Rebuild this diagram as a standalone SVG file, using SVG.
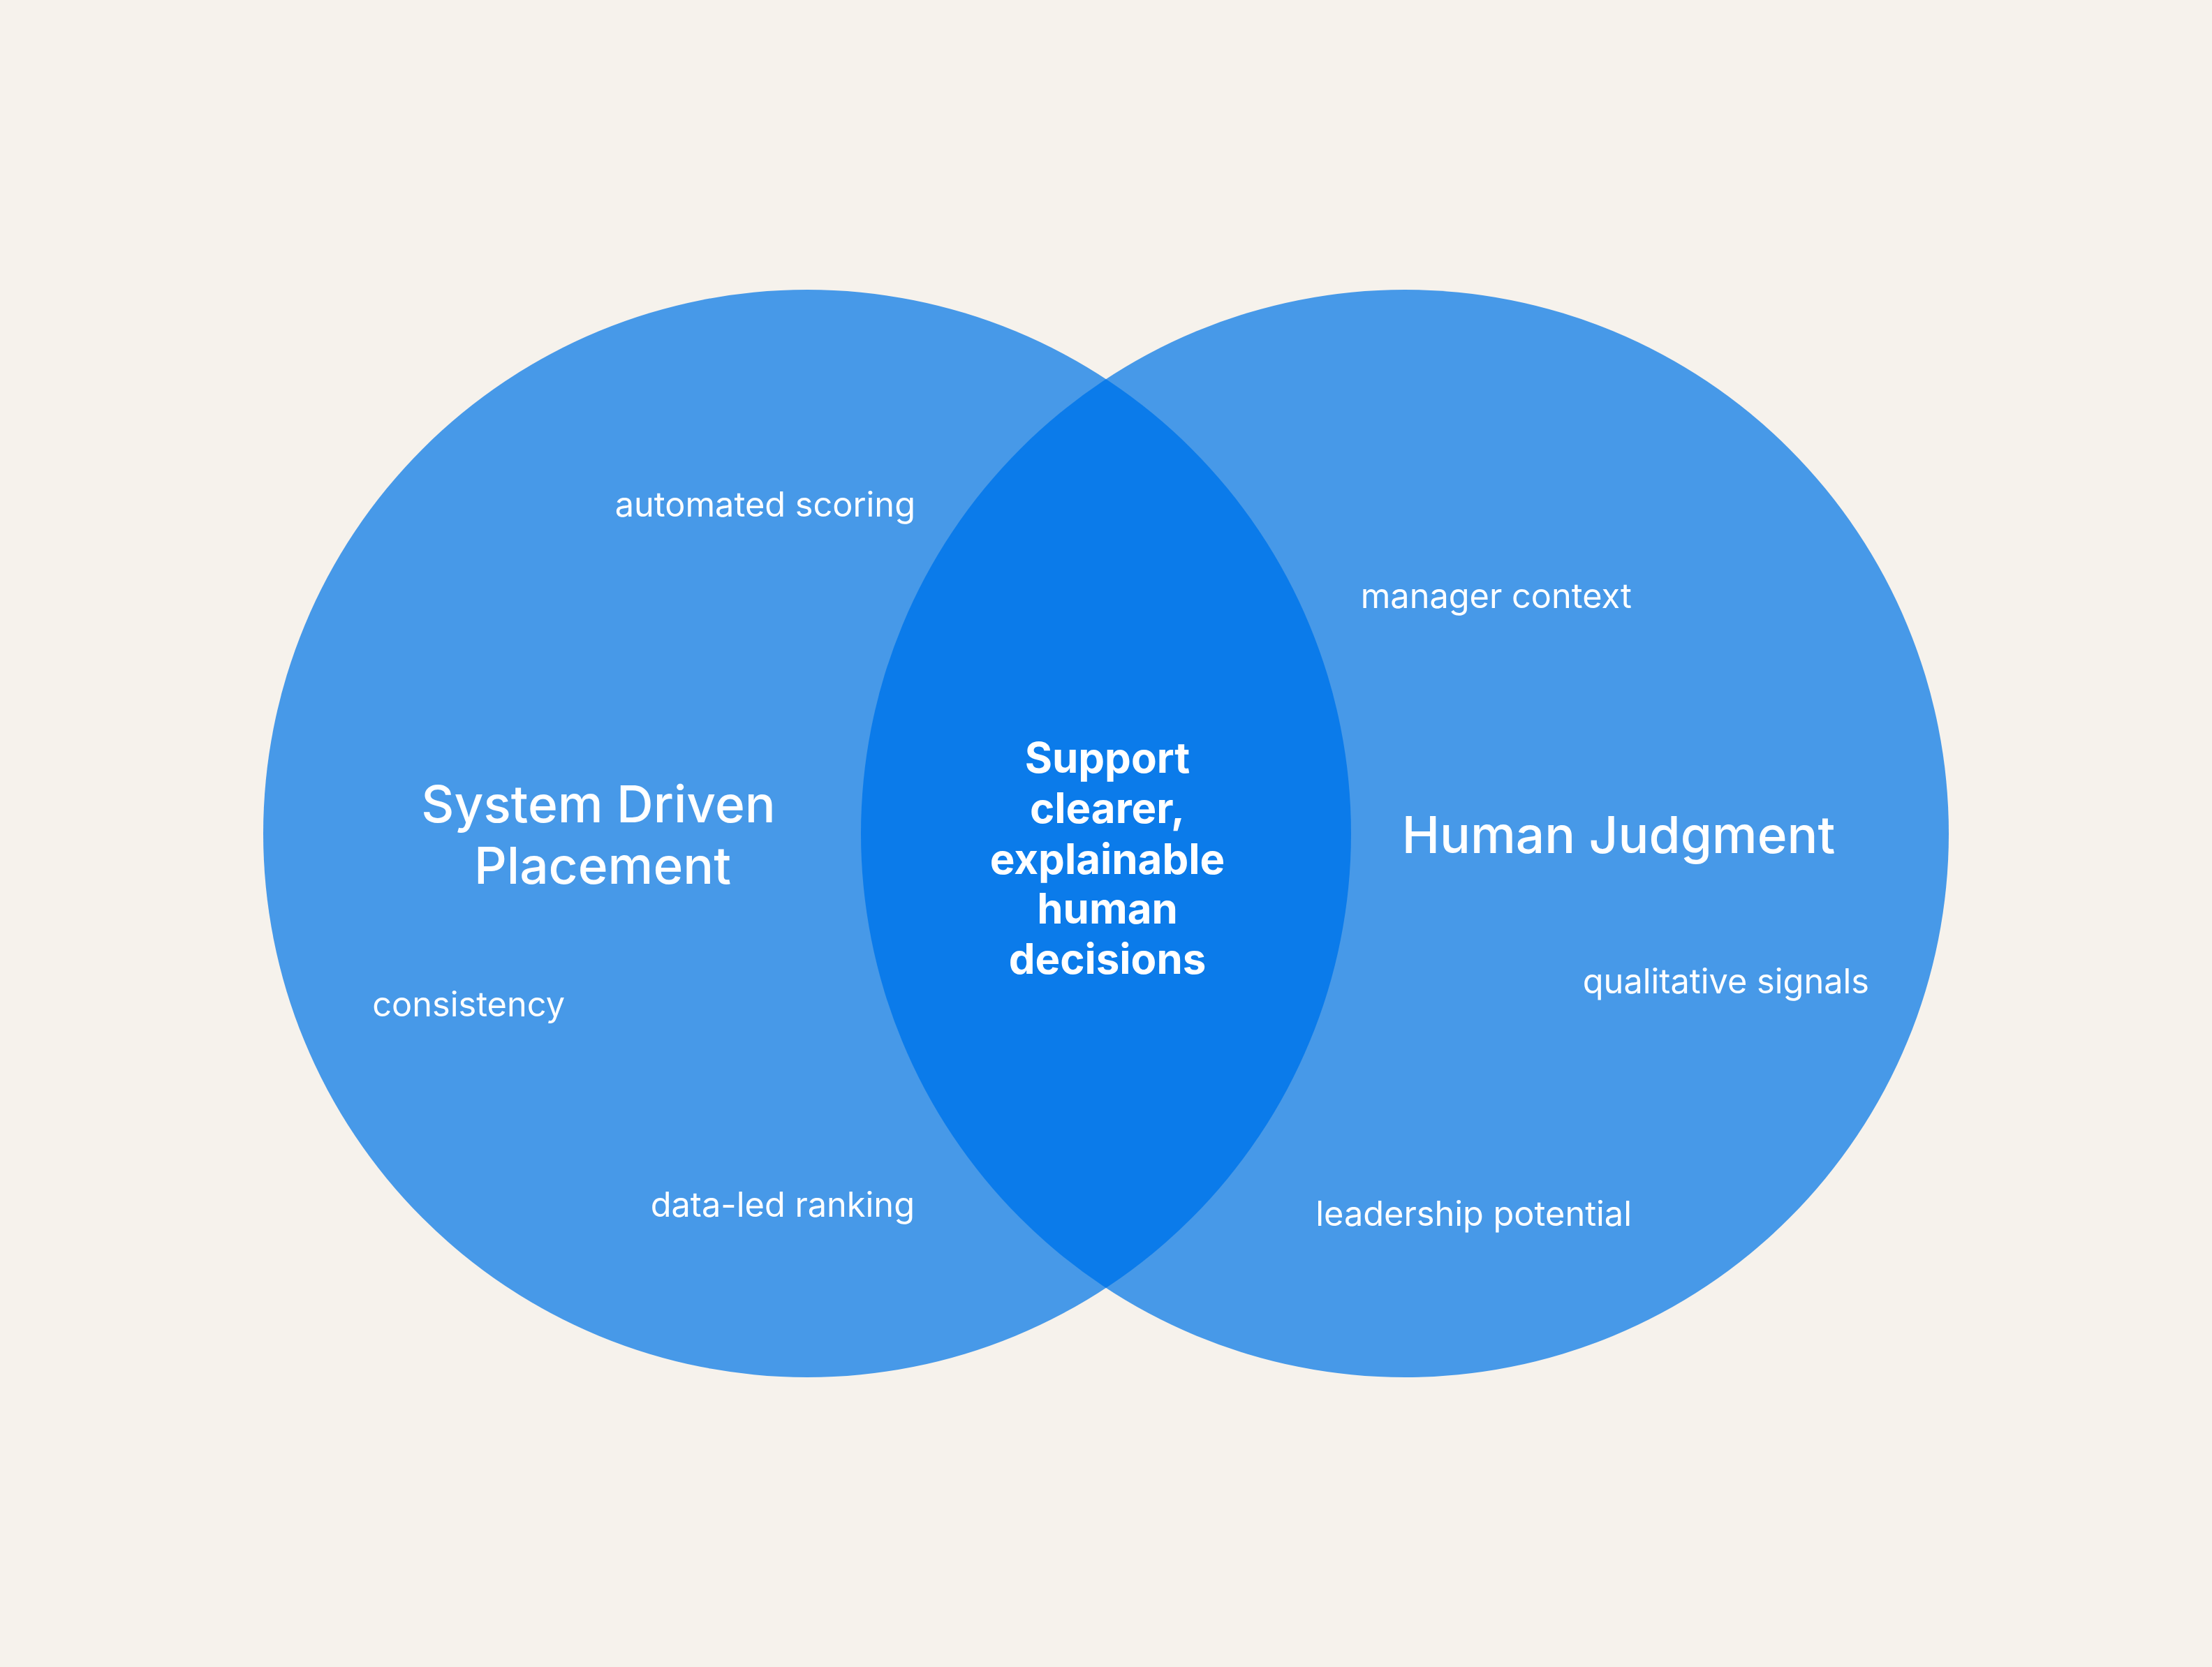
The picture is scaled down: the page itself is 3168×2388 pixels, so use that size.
<svg xmlns="http://www.w3.org/2000/svg" width="3168" height="2388" viewBox="0 0 3168 2388">
  <style>
    .circle { fill: #4799E8; }
    .overlap { fill: #0B7BEA; }
    .item { font-family: Inter, "Noto Sans", "Liberation Sans", sans-serif; font-size: 48.7px; font-weight: 400; fill: #FFFFFF; text-anchor: end; }
    .title { font-family: Inter, "Noto Sans", "Liberation Sans", sans-serif; font-size: 73px; font-weight: 500; fill: #FFFFFF; text-anchor: middle; }
    .core { font-family: Inter, "Noto Sans", "Liberation Sans", sans-serif; font-size: 60px; font-weight: 700; fill: #FFFFFF; text-anchor: middle; }
  </style>
  <defs>
    <clipPath id="clipLeft">
      <circle cx="1156" cy="1194" r="779"/>
    </clipPath>
  </defs>
  <rect x="0" y="0" width="3168" height="2388" fill="#F6F2EC"/>

  <g id="system-driven-placement">
    <circle class="circle" cx="1156" cy="1194" r="779"/>
  </g>
  <g id="human-judgment">
    <circle class="circle" cx="2012" cy="1194" r="779"/>
  </g>
  <g id="overlap">
    <circle class="overlap" cx="2012" cy="1194" r="779" clip-path="url(#clipLeft)"/>
  </g>

  <g id="connectors"></g>

  <g id="labels-left">
    <text class="title" x="857" y="1178">System Driven</text>
    <text class="title" x="863" y="1266">Placement</text>
    <text class="item" x="1311" y="740">automated scoring</text>
    <text class="item" x="809" y="1456">consistency</text>
    <text class="item" x="1310" y="1743">data-led ranking</text>
  </g>
  <g id="labels-right">
    <text class="title" x="2318" y="1222">Human Judgment</text>
    <text class="item" x="2337" y="871">manager context</text>
    <text class="item" x="2677" y="1423">qualitative signals</text>
    <text class="item" x="2337" y="1756">leadership potential</text>
  </g>
  <g id="labels-overlap">
    <text class="core" x="1586" y="1107">Support</text>
    <text class="core" x="1586" y="1179">clearer,</text>
    <text class="core" x="1586" y="1252">explainable</text>
    <text class="core" x="1586" y="1323">human</text>
    <text class="core" x="1586" y="1395">decisions</text>
  </g>
</svg>
